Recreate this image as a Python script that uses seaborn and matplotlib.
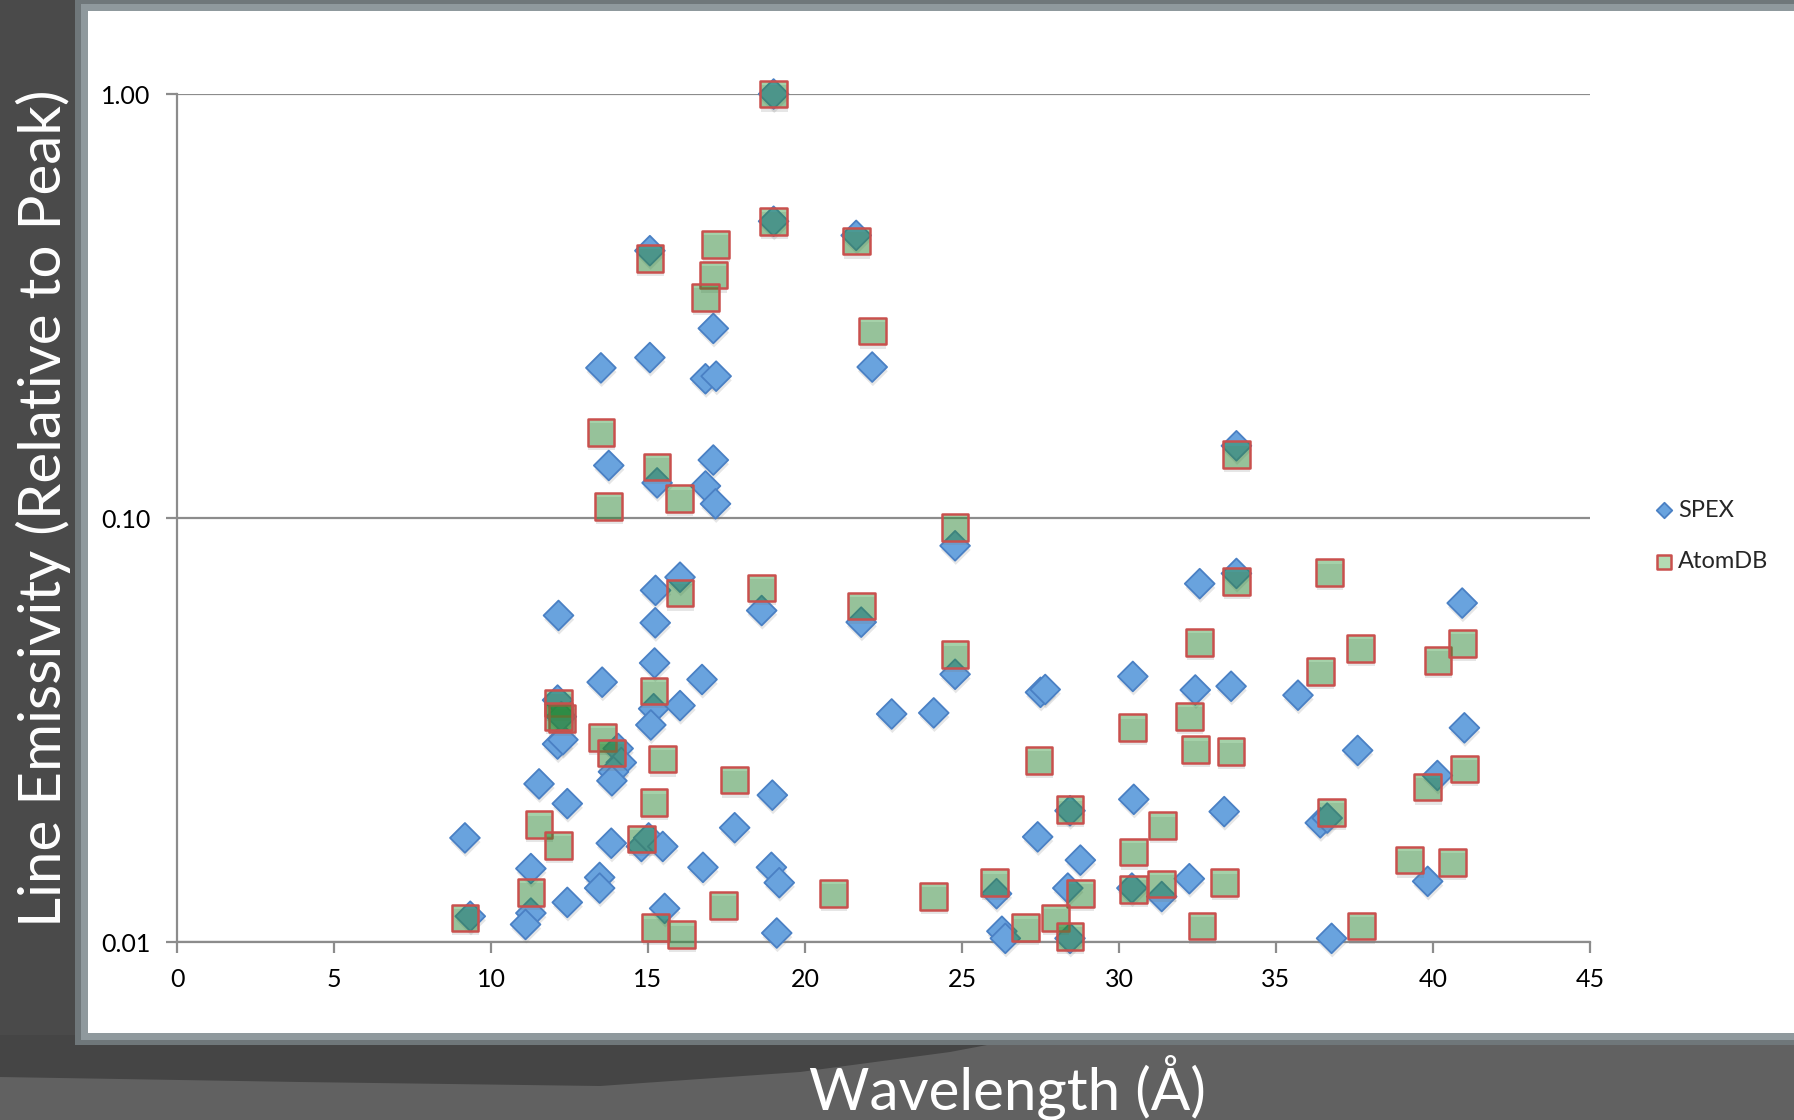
import matplotlib
matplotlib.use("Agg")
import matplotlib.pyplot as plt
import matplotlib.patheffects as pe
from matplotlib.patches import Rectangle, Polygon
from matplotlib.ticker import FixedLocator, FixedFormatter, NullLocator
import pandas as pd
import seaborn as sns

# ---------------- data ----------------
spex_wavelength = [19.00, 19.00, 15.06, 21.63, 17.08, 13.50, 15.06, 16.83, 17.17, 22.14,
                   13.75, 15.29, 17.08, 16.83, 17.15, 33.74, 24.78, 15.24, 16.02, 18.62,
                   21.79, 12.15, 15.23, 24.78, 15.21, 13.54, 16.72, 12.12, 15.18, 16.02,
                   22.76, 24.10, 15.09, 12.12, 12.29, 12.24, 14.05, 14.15, 13.90, 13.85,
                   11.53, 12.43, 18.96, 17.76, 9.17, 13.83, 14.79, 15.02, 15.47, 16.75,
                   11.27, 18.93, 19.18, 13.46, 13.46, 12.43, 15.53, 9.34, 11.27, 11.10,
                   19.10, 32.57, 33.74, 40.93, 30.44, 27.50, 27.65, 32.43, 33.57, 35.70,
                   41.00, 37.60, 40.14, 30.47, 28.44, 33.35, 36.41, 36.63, 27.41, 28.77,
                   32.24, 26.10, 28.37, 30.41, 31.36, 39.83, 26.27, 26.38, 28.44, 36.77]
spex_emissivity = [1.000, 0.501, 0.427, 0.464, 0.280, 0.226, 0.239, 0.213, 0.216, 0.227,
                   0.133, 0.121, 0.137, 0.119, 0.108, 0.148, 0.086, 0.0675, 0.0725, 0.0605,
                   0.0568, 0.0589, 0.0566, 0.0428, 0.0455, 0.0410, 0.0416, 0.0372, 0.0355, 0.0361,
                   0.0345, 0.0347, 0.0325, 0.0293, 0.0300, 0.0340, 0.0286, 0.0265, 0.0252, 0.0240,
                   0.0236, 0.0212, 0.0222, 0.0186, 0.0176, 0.0171, 0.0168, 0.0176, 0.0168, 0.0150,
                   0.0149, 0.0150, 0.0138, 0.0142, 0.0134, 0.0124, 0.0120, 0.0115, 0.0117, 0.0110,
                   0.0105, 0.0700, 0.0740, 0.0630, 0.0423, 0.0388, 0.0394, 0.0393, 0.0401, 0.0382,
                   0.0320, 0.0283, 0.0247, 0.0217, 0.0204, 0.0203, 0.0191, 0.0196, 0.0177, 0.0156,
                   0.0141, 0.0130, 0.0134, 0.0134, 0.0128, 0.0139, 0.0106, 0.0102, 0.0102, 0.0102]

atomdb_wavelength = [19.00, 19.00, 15.06, 17.15, 21.63, 17.08, 16.83, 22.14, 13.50, 15.29,
                     13.75, 16.00, 33.74, 24.78, 18.62, 16.02, 21.79, 24.78, 15.19, 12.15,
                     12.26, 12.15, 13.54, 13.83, 15.46, 17.76, 15.19, 11.53, 12.15, 14.79,
                     11.27, 9.17, 17.40, 20.90, 24.10, 15.24, 16.07, 33.74, 36.70, 32.57,
                     37.70, 40.16, 40.93, 36.41, 32.24, 30.44, 32.44, 33.57, 27.45, 41.00,
                     39.83, 28.44, 36.77, 31.39, 30.47, 39.25, 40.61, 26.03, 31.36, 33.35,
                     28.77, 30.47, 27.97, 27.02, 28.44, 32.64, 37.72]
atomdb_emissivity = [1.000, 0.500, 0.409, 0.442, 0.450, 0.374, 0.331, 0.276, 0.159, 0.132,
                     0.1066, 0.111, 0.141, 0.095, 0.0684, 0.0665, 0.0620, 0.0476, 0.0391, 0.0366,
                     0.0337, 0.0340, 0.0304, 0.0279, 0.0270, 0.0241, 0.0213, 0.0189, 0.0169, 0.0175,
                     0.0131, 0.0114, 0.0122, 0.0130, 0.0128, 0.0108, 0.0104, 0.0708, 0.0743, 0.0509,
                     0.0492, 0.0461, 0.0506, 0.0435, 0.0340, 0.0320, 0.0284, 0.0281, 0.0268, 0.0256,
                     0.0232, 0.0205, 0.0202, 0.0188, 0.0163, 0.0156, 0.0154, 0.0138, 0.0137, 0.0138,
                     0.0130, 0.0133, 0.0114, 0.0108, 0.0103, 0.0109, 0.0109]

x_ticks = [0, 5, 10, 15, 20, 25, 30, 35, 40, 45]
y_ticks = [0.01, 0.10, 1.00]
y_tick_labels = ["0.01", "0.10", "1.00"]
series_names = ["SPEX", "AtomDB"]
x_title = "Wavelength (Å)"
y_title = "Line Emissivity (Relative to Peak)"

# ---------------- style ----------------
sns.set_theme(style="white")
plt.rcParams["font.family"] = ["Lato", "DejaVu Sans"]

W, H = 1794, 1120
fig = plt.figure(figsize=(W / 100, H / 100), dpi=100, facecolor="#4a4a4a")


def rect(x0, y0, x1, y1, color, z):
    fig.patches.append(Rectangle((x0 / W, 1 - y1 / H), (x1 - x0) / W, (y1 - y0) / H,
                                 transform=fig.transFigure, facecolor=color,
                                 edgecolor="none", zorder=z))


# slide background pieces
rect(0, 1035, W, H, "#616161", -10)
swoosh = [(0, 1035), (0, 1077), (300, 1082), (600, 1086), (800, 1072), (950, 1052), (1040, 1035)]
fig.patches.append(Polygon([(x / W, 1 - y / H) for x, y in swoosh], closed=True,
                           transform=fig.transFigure, facecolor="#454545",
                           edgecolor="none", zorder=-9))
rect(75, 0, W, 1045, "#6f777a", -8)
rect(81, 4, W, 1040, "#8f999d", -7)
rect(88, 11, W, 1033, "white", -6)

ax = fig.add_axes([177 / W, 1 - 942 / H, (1590 - 177) / W, (942 - 94) / H])
ax.set_facecolor("white")

df_spex = pd.DataFrame({"Wavelength": spex_wavelength, "Emissivity": spex_emissivity})
df_atom = pd.DataFrame({"Wavelength": atomdb_wavelength, "Emissivity": atomdb_emissivity})

sns.scatterplot(data=df_spex, x="Wavelength", y="Emissivity", marker="D", s=230,
                color="#69a3de", edgecolor="#4a80c4", linewidth=1.3, ax=ax,
                label=series_names[0], zorder=3, clip_on=False)
sns.scatterplot(data=df_atom, x="Wavelength", y="Emissivity", marker="s", s=370,
                color="#1e8c28", edgecolor="#c9504d", linewidth=1.8, ax=ax,
                label=series_names[1], zorder=4, clip_on=False)

c_spex, c_atom = ax.collections[0], ax.collections[1]
c_spex.set_facecolor("#69a3de")
c_spex.set_edgecolor("#4a80c4")
c_atom.set_facecolor((0.118, 0.55, 0.16, 0.40))
c_atom.set_edgecolor("#c9504d")
shadow = [pe.SimplePatchShadow(offset=(0.5, -3), shadow_rgbFace="#777777", alpha=0.18), pe.Normal()]
c_spex.set_path_effects(shadow)
c_atom.set_path_effects(shadow)

ax.set_yscale("log")
ax.set_xlim(0, 45)
ax.set_ylim(0.01, 1.0)
ax.xaxis.set_major_locator(FixedLocator(x_ticks))
ax.yaxis.set_major_locator(FixedLocator(y_ticks))
ax.yaxis.set_major_formatter(FixedFormatter(y_tick_labels))
ax.yaxis.set_minor_locator(NullLocator())
ax.xaxis.set_minor_locator(NullLocator())
ax.set_xlabel("")
ax.set_ylabel("")

ax.yaxis.grid(True, color="#8c8c8c", linewidth=1.6, zorder=0)
ax.xaxis.grid(False)
ax.set_axisbelow(True)
for side in ["top", "right"]:
    ax.spines[side].set_visible(False)
for side in ["left", "bottom"]:
    ax.spines[side].set_color("#8c8c8c")
    ax.spines[side].set_linewidth(1.6)
ax.tick_params(axis="both", which="major", bottom=True, left=True, direction="out",
               length=8, width=1.6, color="#8c8c8c", labelsize=18, labelcolor="black", pad=11)

# legend
leg = ax.legend(loc="center left", bbox_to_anchor=(1640 / W, 1 - 536 / H),
                bbox_transform=fig.transFigure, frameon=False, fontsize=17,
                markerscale=0.52, handletextpad=0.1, labelspacing=1.3,
                handlelength=1.0, borderpad=0)
for h in leg.legend_handles:
    h.set_path_effects([])
leg.legend_handles[1].set_facecolor("#b3dbb3")

# titles on the dark slide
fig.text(43 / W, 1 - 508 / H, y_title, rotation=90, color="white", fontsize=42,
         ha="center", va="center")
fig.text(1007 / W, 1 - 1087 / H, x_title, color="white", fontsize=42,
         ha="center", va="center")

fig.savefig("out.png", dpi=100, facecolor=fig.get_facecolor())
